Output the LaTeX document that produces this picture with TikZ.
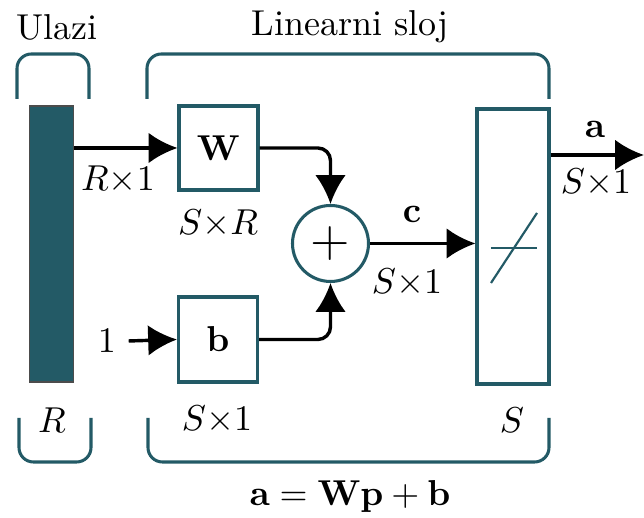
\documentclass[tikz,border=0pt]{standalone}
\usetikzlibrary{arrows.meta}
\definecolor{tealc}{RGB}{35,90,102}
\begin{document}
\begin{tikzpicture}[x=0.2778pt,y=-0.2778pt,
  blk/.style={draw=tealc,line width=0.85pt,fill=white,inner sep=0pt},
  conn/.style={line width=0.95pt,-{Latex[length=8pt,width=8.5pt]}},
  brk/.style={draw=tealc,line width=0.85pt,rounded corners=4pt},
  lbl/.style={inner sep=0pt}]
\useasboundingbox (0,0) rectangle (644,518);
% brackets
\draw[brk] (17,99) |- (53,54) -| (89,99);
\draw[brk] (147,99) |- (350,54) -| (549,99);
\draw[brk] (19,418) |- (55,462) -| (91,418);
\draw[brk] (148,418) |- (350,462) -| (549,418);
\node[lbl] (ulazi) at (57,27) {Ulazi};
\node[lbl] (lsloj) at (350,27) {Linearni sloj};
% blocks
\node[draw=black!70,line width=0.3pt,fill=tealc,minimum width={44*0.2778pt},minimum height={276*0.2778pt},inner sep=0pt] (bar) at (51.5,244) {};
\node[blk,minimum width={79*0.2778pt},minimum height={84*0.2778pt}] (W) at (218.5,148) {$\mathbf{W}$};
\node[blk,minimum width={79*0.2778pt},minimum height={85*0.2778pt}] (b) at (218,339.5) {$\mathbf{b}$};
\node[blk,circle,minimum size={76*0.2778pt}] (sum) at (330.5,243.5) {\fontsize{15.5}{18}\selectfont $+$};
\node[blk,minimum width={72*0.2778pt},minimum height={275*0.2778pt}] (T) at (513,246.5) {};
\draw[tealc,line width=0.35pt] (491,248) -- (537,248);
\draw[tealc,line width=0.6pt] (491,283) -- (537,213);
% inputs/outputs
\node (one) at (107,341) {$1$};
\coordinate (out) at (644,155);
% connectors
\draw[conn] (bar.east |- W.west) -- (W.west);
\draw[conn,rounded corners=3.5pt] (W.east) -| (sum.north);
\draw[conn] (one.east) -- (b.west);
\draw[conn,rounded corners=3.5pt] (b.east) -| (sum.south);
\draw[conn] (sum.east) -- (T.west |- sum.east);
\draw[conn] (T.east |- out) -- (out);
% labels
\node[lbl] (l1) at (118,180) {$R{\times}1$};
\node[lbl] (l2) at (218,224) {$S{\times}R$};
\node[lbl] (l3) at (412,215) {$\mathbf{c}$};
\node[lbl] (l4) at (407,283) {$S{\times}1$};
\node[lbl] (l5) at (595,130) {$\mathbf{a}$};
\node[lbl] (l6) at (596,183) {$S{\times}1$};
\node[lbl] (l7) at (52,420) {$R$};
\node[lbl] (l8) at (217,420) {$S{\times}1$};
\node[lbl] (l9) at (512,420) {$S$};
\node[lbl] (eq) at (350,497) {$\mathbf{a}=\mathbf{W}\mathbf{p}+\mathbf{b}$};
\end{tikzpicture}
\end{document}
